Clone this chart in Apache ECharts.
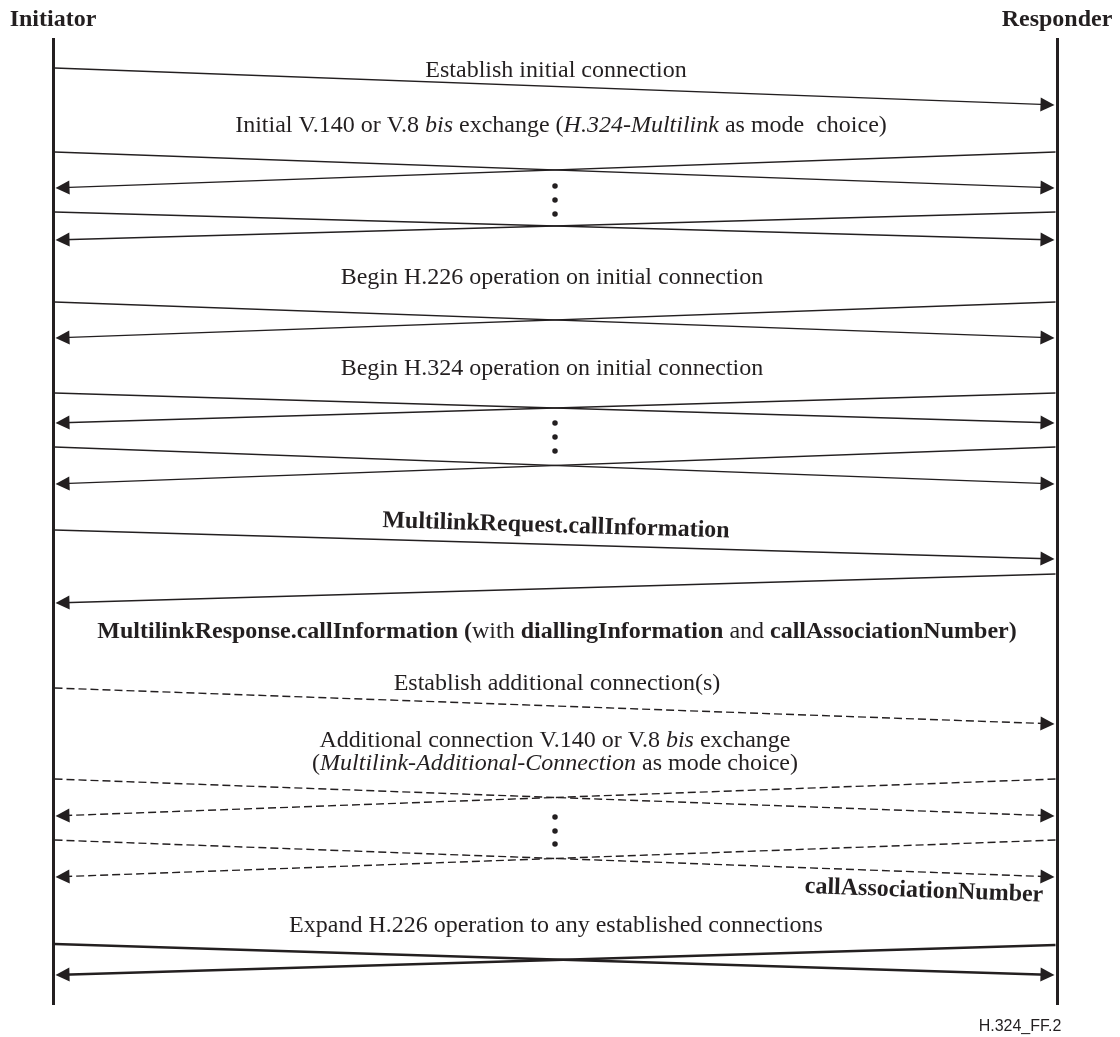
<!DOCTYPE html>
<html>
<head>
<meta charset="utf-8">
<script src="https://cdn.jsdelivr.net/npm/echarts@6/dist/echarts.min.js"></script>
<style>
html,body{margin:0;padding:0;background:#fff;}
#chart{width:1120px;height:1037px;}
</style>
</head>
<body>
<div id="chart"></div>
<script>
// ---- Diagram data (diagram units = reference pixels) ----
const participants = ['Initiator', 'Responder'];
const lifelineX = [53, 1057];
const lifelineSpan = [38, 1005];

// [senderIndex, yAtSender, yAtReceiver]
const solidMsgs = [
  [0, 68, 105],
  [0, 152, 188], [1, 152, 188],
  [0, 212, 240], [1, 212, 240],
  [0, 302, 338], [1, 302, 338],
  [0, 393, 423], [1, 393, 423],
  [0, 447, 484], [1, 447, 484],
  [0, 530, 559],
  [1, 574, 603]
];
const dashedMsgs = [
  [0, 688, 724],
  [0, 779, 816], [1, 779, 816],
  [0, 840, 877], [1, 840, 877]
];
const thickMsgs = [
  [0, 944, 975], [1, 945, 975]
];
// continuation dots (vertical ellipsis)
const dotX = 555;
const dotY = [186, 200, 214, 423, 437, 451, 817, 831, 844];

// message labels: rich-text strings, centre x, centre y, rotation
const labelTexts = [
  '{n|Establish initial connection}',
  '{n|Initial V.140 or V.8 }{i|bis}{n| exchange (}{i|H.324-Multilink}{n| as mode  choice)}',
  '{n|Begin H.226 operation on initial connection}',
  '{n|Begin H.324 operation on initial connection}',
  '{b|MultilinkRequest.callInformation}',
  '{b|MultilinkResponse.callInformation (}{n|with }{b|diallingInformation}{n| and }{b|callAssociationNumber)}',
  '{n|Establish additional connection(s)}',
  '{n|Additional connection V.140 or V.8 }{i|bis}{n| exchange}',
  '{n|(}{i|Multilink-Additional-Connection}{n| as mode choice)}',
  '{b|callAssociationNumber}',
  '{n|Expand H.226 operation to any established connections}'
];
const labelX = [556, 561, 552, 552, 556, 557, 557, 555, 555, 924, 556];
const labelY = [71, 126, 278, 369, 526, 632, 684, 741, 764, 891, 926];
const labelRotate = [0, 0, 0, 0, -1.7, 0, 0, 0, 0, -2.1, 0];

const figureId = 'H.324_FF.2';

// ---- build series ----
const INK = '#231f20';
const SERIF = '"Liberation Serif", "Times New Roman", serif';
const FS = 24;
const HEAD = 8; // arrowhead half-length offset

function msgCoords(m) {
  const from = m[0], to = 1 - m[0];
  const dir = to > from ? 1 : -1;
  const x0 = lifelineX[from] + dir * 1.5;
  const x1 = lifelineX[to] - dir * (1.5 + HEAD);
  const t = (x1 - lifelineX[from]) / (lifelineX[to] - lifelineX[from]);
  const y1 = m[1] + (m[2] - m[1]) * t;
  return { coords: [[x0, m[1]], [x1, y1]] };
}

function msgSeries(list, width, type) {
  return {
    type: 'lines',
    coordinateSystem: 'cartesian2d',
    polyline: false,
    silent: true,
    symbol: ['none', 'triangle'],
    symbolSize: 14,
    lineStyle: { color: INK, width: width, type: type, opacity: 1 },
    data: list.map(msgCoords),
    z: 3
  };
}

const rich = {
  n: { fontFamily: SERIF, fontSize: FS, color: INK },
  i: { fontFamily: SERIF, fontSize: FS, color: INK, fontStyle: 'italic' },
  b: { fontFamily: SERIF, fontSize: FS, color: INK, fontWeight: 'bold' }
};

const labelData = labelTexts.map((t, k) => ({
  value: [labelX[k], labelY[k]],
  label: { formatter: t, rotate: labelRotate[k] }
}));

function textScatter(data, label) {
  return {
    type: 'scatter',
    silent: true,
    symbolSize: 0,
    itemStyle: { opacity: 1, color: INK },
    label: Object.assign({
      show: true, position: 'inside', align: 'center', verticalAlign: 'middle',
      color: INK, opacity: 1, textBorderWidth: 0
    }, label),
    data: data,
    z: 5
  };
}

const option = {
  animation: false,
  grid: { left: 0, right: 0, top: 0, bottom: 0 },
  xAxis: { type: 'value', min: 0, max: 1120, show: false },
  yAxis: { type: 'value', min: 0, max: 1037, inverse: true, show: false },
  series: [
    {
      type: 'lines',
      coordinateSystem: 'cartesian2d',
      silent: true,
      symbol: 'none',
      lineStyle: { color: INK, width: 3, opacity: 1 },
      data: lifelineX.map(x => ({ coords: [[x, lifelineSpan[0]], [x, lifelineSpan[1]]] })),
      z: 4
    },
    msgSeries(solidMsgs, 1.4, 'solid'),
    msgSeries(dashedMsgs, 1.4, [8, 4]),
    msgSeries(thickMsgs, 2.6, 'solid'),
    {
      type: 'scatter',
      silent: true,
      symbol: 'circle',
      symbolSize: 5.5,
      itemStyle: { color: INK, opacity: 1 },
      data: dotY.map(y => [dotX, y]),
      z: 3
    },
    textScatter(labelData, { fontFamily: SERIF, fontSize: FS, rich: rich }),
    textScatter(
      participants.map((p, k) => ({ name: p, value: [lifelineX[k], 20] })),
      { fontFamily: SERIF, fontSize: 24, fontWeight: 'bold', formatter: p => p.name }
    ),
    textScatter(
      [{ name: figureId, value: [1020, 1027] }],
      { fontFamily: '"Liberation Sans", Arial, sans-serif', fontSize: 16, formatter: p => p.name }
    )
  ]
};

const chart = echarts.init(document.getElementById('chart'), null, { renderer: 'canvas' });
chart.setOption(option);
</script>
</body>
</html>
